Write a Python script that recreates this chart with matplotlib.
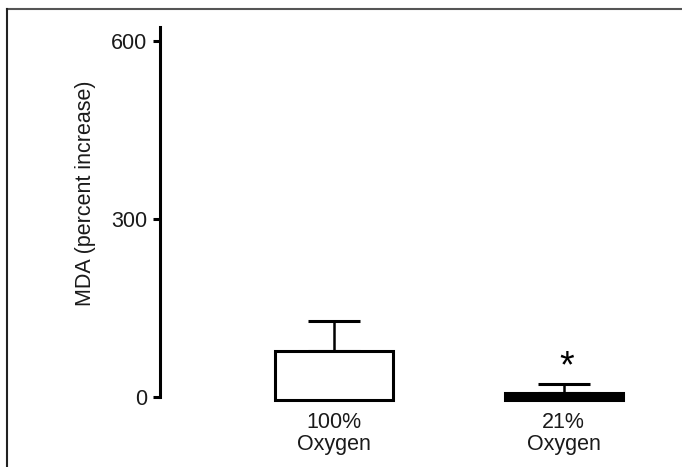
import numpy as np
import matplotlib
matplotlib.use("Agg")
import matplotlib.pyplot as plt
from matplotlib.lines import Line2D

plt.rcParams['font.family'] = ['Liberation Sans', 'DejaVu Sans']

# values
groups = ["100%\nOxygen", "21%\nOxygen"]
mda = [78, 7]          # top of bar (percent increase)
err = [50, 15]         # upper error
base = -5              # bars start slightly below zero
fills = ["white", "black"]
yticks = [0, 300, 600]

fig = plt.figure(figsize=(6.82, 4.67), dpi=100)
ax = fig.add_axes([0.2346, 0.1244, 0.7654, 0.8386])

x = np.arange(1, len(groups) + 1)
heights = [m - base for m in mda]
ax.bar(x, heights, bottom=base, width=0.514, color=fills,
       edgecolor="black", linewidth=2.2, zorder=3)
ax.errorbar(x, mda, yerr=[np.zeros(len(err)), err], fmt="none",
            ecolor="black", elinewidth=1.8, capsize=19, capthick=2.2, zorder=2)

# significance mark
ax.text(x[1] + 0.015, mda[1] + err[1] + 28, "*", ha="center", va="center",
        fontsize=27, color="black")

ax.set_xlim(0.242, 2.516)
ax.set_ylim(-20, 640)
ax.set_yticks(yticks)
ax.set_yticklabels([str(t) for t in yticks], fontsize=15.5, color="#1a1a1a")
ax.set_xticks(x)
ax.set_xticklabels(groups, fontsize=15.5, color="#1a1a1a", linespacing=1.1)
ax.tick_params(axis="x", length=0, pad=2)
ax.tick_params(axis="y", length=5, width=2.2, pad=4)
ax.set_ylabel("MDA (percent increase)", fontsize=15.5, color="#1a1a1a")
ax.yaxis.set_label_coords(-0.122, 0.55)

for s in ["top", "right", "bottom"]:
    ax.spines[s].set_visible(False)
ax.spines["left"].set_linewidth(2.2)
ax.spines["left"].set_bounds(0, 624)

# frame lines on top and left of the figure
fig.add_artist(Line2D([7 / 682, 1], [1 - 8.5 / 467, 1 - 8.5 / 467],
                      transform=fig.transFigure, color="#555555", lw=1.5))
fig.add_artist(Line2D([7 / 682, 7 / 682], [0, 1 - 8.5 / 467],
                      transform=fig.transFigure, color="#222222", lw=1.5))

fig.savefig("out.png", dpi=100)
